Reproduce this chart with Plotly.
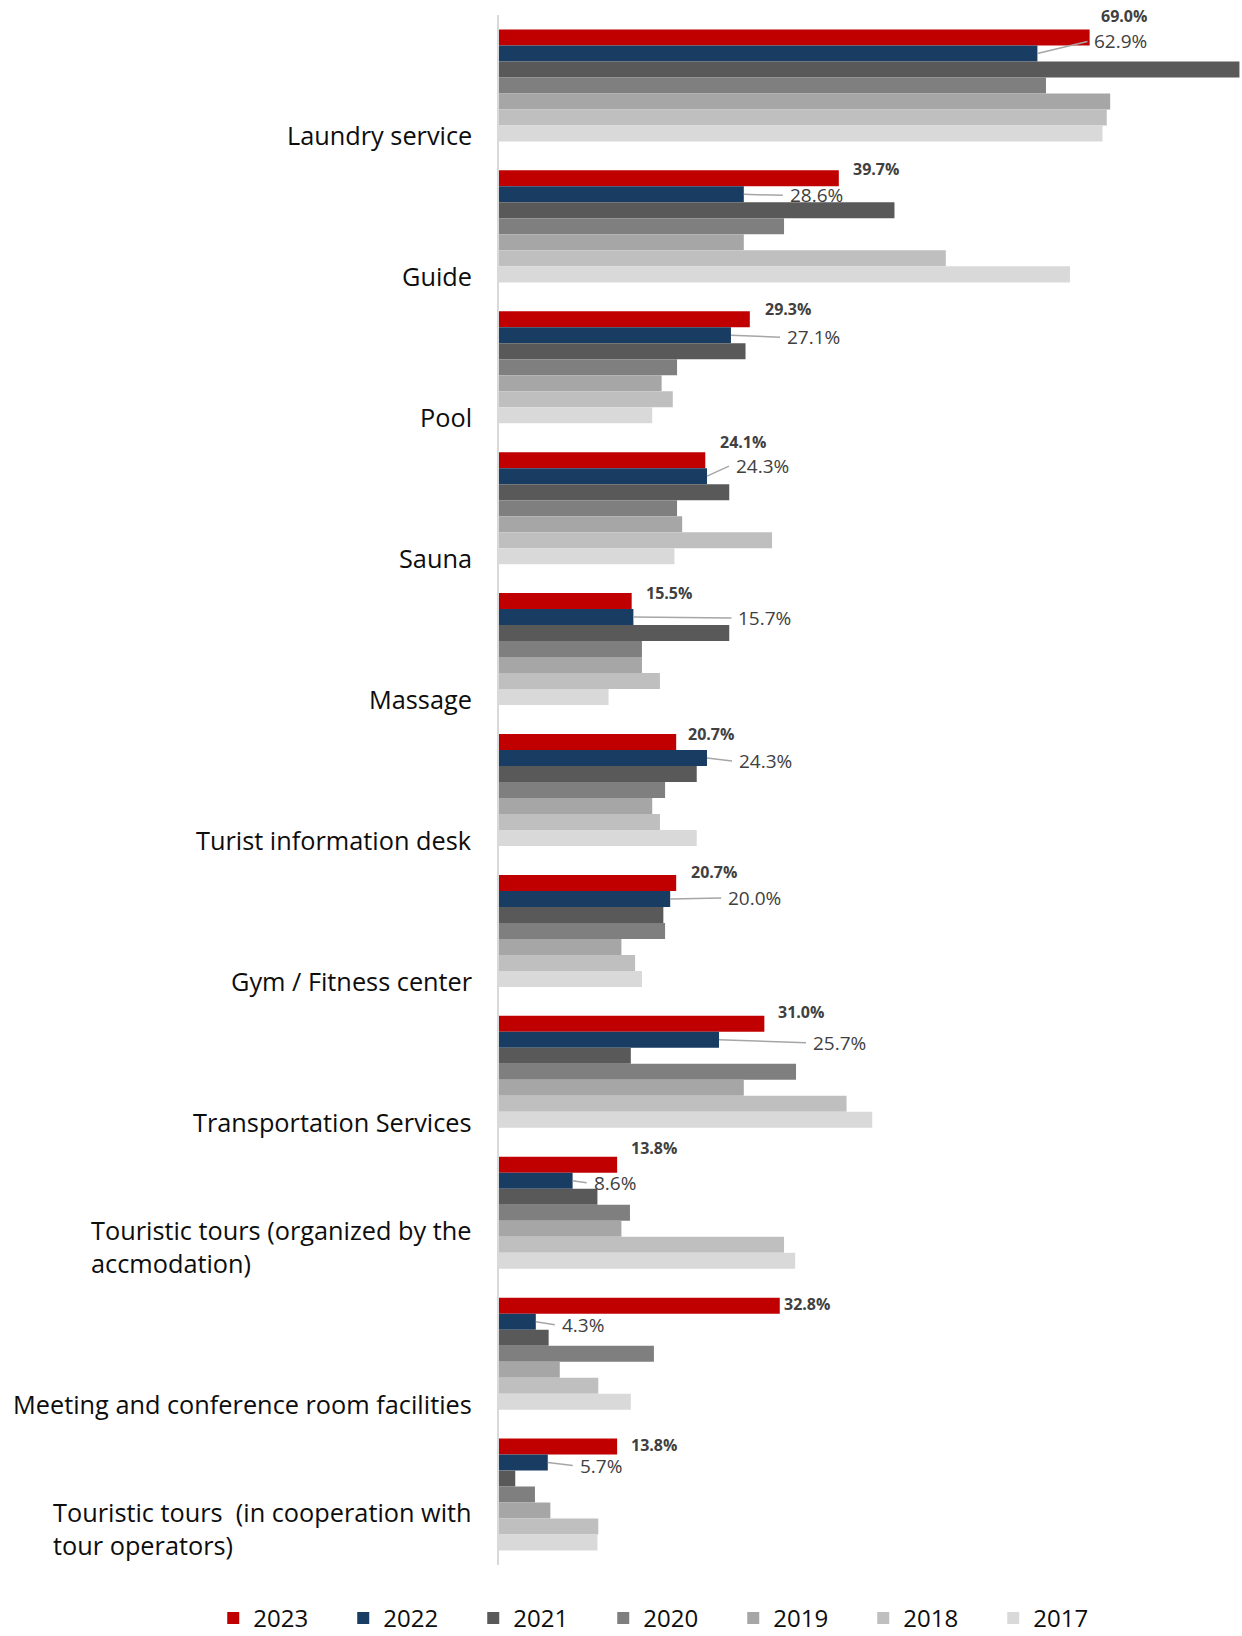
import plotly.graph_objects as go

# Services offered, top to bottom
categories = [
    "Laundry service",
    "Guide",
    "Pool",
    "Sauna",
    "Massage",
    "Turist information desk",
    "Gym / Fitness center",
    "Transportation Services",
    "Touristic tours (organized by the accmodation)",
    "Meeting and conference room facilities",
    "Touristic tours  (in cooperation with tour operators)",
]
category_labels = [
    "Laundry service",
    "Guide",
    "Pool",
    "Sauna",
    "Massage",
    "Turist information desk",
    "Gym / Fitness center",
    "Transportation Services",
    "Touristic tours (organized by the<br>accmodation)",
    "Meeting and conference room facilities",
    "Touristic tours  (in cooperation with<br>tour operators)",
]

years = ["2023", "2022", "2021", "2020", "2019", "2018", "2017"]

# Share of accommodations offering each service (%)
v2023 = [69.0, 39.7, 29.3, 24.1, 15.5, 20.7, 20.7, 31.0, 13.8, 32.8, 13.8]
v2022 = [62.9, 28.6, 27.1, 24.3, 15.7, 24.3, 20.0, 25.7, 8.6, 4.3, 5.7]
v2021 = [86.5, 46.2, 28.8, 26.9, 26.9, 23.1, 19.2, 15.4, 11.5, 5.8, 1.9]
v2020 = [63.9, 33.3, 20.8, 20.8, 16.7, 19.4, 19.4, 34.7, 15.3, 18.1, 4.2]
v2019 = [71.4, 28.6, 19.0, 21.4, 16.7, 17.9, 14.3, 28.6, 14.3, 7.1, 6.0]
v2018 = [71.0, 52.2, 20.3, 31.9, 18.8, 18.8, 15.9, 40.6, 33.3, 11.6, 11.6]
v2017 = [70.5, 66.7, 17.9, 20.5, 12.8, 23.1, 16.7, 43.6, 34.6, 15.4, 11.5]

series = [v2023, v2022, v2021, v2020, v2019, v2018, v2017]
colors = ["#C00000", "#193C62", "#595959", "#7F7F7F", "#A6A6A6", "#BFBFBF", "#D9D9D9"]

# Label placement offsets in pixels (layout only)
lbl23_dx = [9, 12, 13, 13, 12, 10, 13, 12, 12, 2, 12]
lbl23_dy = [21, 9, 10, 18, 8, 8, 11, 12, 17, 2, 2]
lbl22_dx = [57, 46, 56, 29, 105, 32, 58, 94, 21, 26, 32]
lbl22_dy = [-12, 1, 2, -10, 1, 3, -1, 3, 2, 3, 3]

FONT = "Open Sans"
BAR_PX = 16  # thickness of one bar in pixels

fig = go.Figure()
for name, vals, col in zip(years, series, colors):
    fig.add_trace(go.Bar(
        y=categories, x=vals, orientation="h", name=name,
        marker=dict(color=col, line=dict(width=0)),
        hoverinfo="x+name",
    ))

annotations = []
for i, cat in enumerate(categories):
    # category name, sitting near the bottom of its group
    annotations.append(dict(
        xref="paper", yref="y", x=0, y=cat, xanchor="right", yanchor="bottom",
        xshift=-25, yshift=-69, align="left", showarrow=False,
        text=category_labels[i], font=dict(family=FONT, size=25.3, color="#0D0D0D"),
    ))
    # 2023 value, bold
    annotations.append(dict(
        xref="x", yref="y", x=v2023[i], y=cat, xanchor="left", yanchor="middle",
        xshift=lbl23_dx[i], yshift=3 * BAR_PX + lbl23_dy[i], showarrow=False,
        text=f"<b>{v2023[i]:.1f}%</b>", font=dict(family=FONT, size=16, color="#404040"),
    ))
    # 2022 value with a leader line
    annotations.append(dict(
        xref="x", yref="y", x=v2022[i], y=cat, xanchor="left", yanchor="middle",
        yshift=2 * BAR_PX, showarrow=True, arrowhead=0, arrowwidth=1.5,
        arrowcolor="#A6A6A6", ax=lbl22_dx[i] - 7, ay=lbl22_dy[i], borderpad=6,
        text=f"{v2022[i]:.1f}%", font=dict(family=FONT, size=19, color="#404040"),
    ))

fig.update_layout(
    width=1242, height=1636,
    margin=dict(l=499, r=0, t=15, b=71, autoexpand=False),
    paper_bgcolor="white", plot_bgcolor="white",
    barmode="group", bargap=0.205, bargroupgap=0,
    font=dict(family=FONT, color="#0D0D0D"),
    xaxis=dict(range=[0, 86.8], visible=False, fixedrange=True),
    yaxis=dict(autorange="reversed", showticklabels=False, ticks="",
               showgrid=False, zeroline=False, showline=True,
               linecolor="#D9D9D9", linewidth=2),
    legend=dict(orientation="h", traceorder="normal",
                xref="paper", yref="paper",
                x=-0.3846, y=-0.0345, xanchor="left", yanchor="middle",
                entrywidth=85, entrywidthmode="pixels",
                font=dict(family=FONT, size=24, color="#0D0D0D")),
    annotations=annotations,
    showlegend=True,
)

fig.write_html("out.html")
